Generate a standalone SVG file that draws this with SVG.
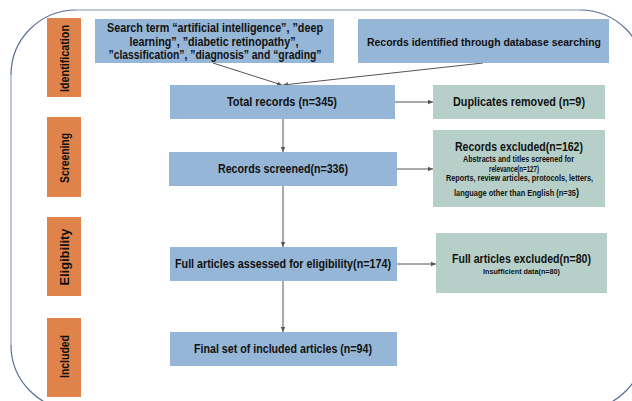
<svg xmlns="http://www.w3.org/2000/svg" width="632" height="401" viewBox="0 0 632 401">
<defs>
<style>
.bg{fill:#ffffff}
.stage{fill:#E0834A}
.blue{fill:#95B6D6}
.green{fill:#B6D0C9}
.t{font-family:"Liberation Sans",Arial,sans-serif;font-weight:bold;fill:#111;text-anchor:middle}
.lab{font-size:12.5px}
.m{font-size:12.5px}
.h{font-size:13.5px}
.s{font-size:8.5px}
.xs{font-size:7.5px}
.edge{fill:none;stroke:#555;stroke-width:1}
.fr1{fill:none;stroke:#AAB6CA;stroke-width:1.5}
.fr2{fill:none;stroke:#5B6F98;stroke-width:1.2}
</style>
<marker id="ah" markerWidth="6" markerHeight="6" refX="5" refY="3" orient="auto" markerUnits="userSpaceOnUse">
<path d="M0,0.8 L5,3 L0,5.2 Z" fill="#555"/>
</marker>
</defs>
<rect class="bg" x="0" y="0" width="632" height="401"/>
<g id="frame">
<path class="fr1" d="M76,10 L580,10 M11,75 L11,345"/>
<path class="fr2" d="M11,75 A65,65 0 0 1 76,10 M580,10 A65,65 0 0 1 645,75 M645,345 A65,65 0 0 1 580,410 M76,410 A65,65 0 0 1 11,345"/>
</g>
<g id="stage-identification">
<rect class="stage" x="47" y="18" width="34" height="79"/>
<text class="t lab" transform="translate(69,58.5) rotate(-90)" textLength="67" lengthAdjust="spacingAndGlyphs">Identification</text>
</g>
<g id="stage-screening">
<rect class="stage" x="47" y="117" width="34" height="80"/>
<text class="t lab" transform="translate(69,158) rotate(-90)" textLength="50" lengthAdjust="spacingAndGlyphs">Screening</text>
</g>
<g id="stage-eligibility">
<rect class="stage" x="47" y="217" width="34" height="79"/>
<text class="t lab" transform="translate(69,257) rotate(-90)" textLength="57" lengthAdjust="spacingAndGlyphs">Eligibility</text>
</g>
<g id="stage-included">
<rect class="stage" x="47" y="318" width="34" height="79"/>
<text class="t lab" transform="translate(69,356.5) rotate(-90)" textLength="43" lengthAdjust="spacingAndGlyphs">Included</text>
</g>
<g id="connectors">
<line class="edge" x1="213" y1="63" x2="282" y2="85" marker-end="url(#ah)"/>
<line class="edge" x1="483" y1="63" x2="283" y2="85" marker-end="url(#ah)"/>
<line class="edge" x1="283" y1="119" x2="283" y2="152" marker-end="url(#ah)"/>
<line class="edge" x1="283" y1="186" x2="283" y2="247" marker-end="url(#ah)"/>
<line class="edge" x1="283" y1="281" x2="283" y2="332" marker-end="url(#ah)"/>
<line class="edge" x1="395" y1="102" x2="433" y2="102" marker-end="url(#ah)"/>
<line class="edge" x1="397" y1="169" x2="433" y2="169" marker-end="url(#ah)"/>
<line class="edge" x1="397" y1="264" x2="436" y2="264" marker-end="url(#ah)"/>
</g>
<g id="search-terms">
<rect class="blue" x="95" y="19" width="239" height="44"/>
<text class="t m" x="215" y="32" textLength="216" lengthAdjust="spacingAndGlyphs">Search term “artificial intelligence”, ”deep</text>
<text class="t m" x="214" y="46" textLength="169" lengthAdjust="spacingAndGlyphs">learning”, ”diabetic retinopathy”,</text>
<text class="t m" x="215" y="59" textLength="213" lengthAdjust="spacingAndGlyphs">”classification”, ”diagnosis” and “grading”</text>
</g>
<g id="records-identified">
<rect class="blue" x="358" y="19" width="251" height="44"/>
<text class="t" style="font-size:11.5px" x="484" y="46" textLength="234" lengthAdjust="spacingAndGlyphs">Records identified through database searching</text>
</g>
<g id="total-records">
<rect class="blue" x="170" y="85" width="225" height="34"/>
<text class="t m" x="282" y="106" textLength="110" lengthAdjust="spacingAndGlyphs">Total records (n=345)</text>
</g>
<g id="duplicates-removed">
<rect class="green" x="433" y="85" width="172" height="34"/>
<text class="t m" x="519" y="106" textLength="132" lengthAdjust="spacingAndGlyphs">Duplicates removed (n=9)</text>
</g>
<g id="records-screened">
<rect class="blue" x="169" y="152" width="228" height="34"/>
<text class="t m" x="283" y="173" textLength="130" lengthAdjust="spacingAndGlyphs">Records screened(n=336)</text>
</g>
<g id="records-excluded">
<rect class="green" x="433" y="130" width="172" height="77"/>
<text class="t h" x="519" y="151" textLength="128" lengthAdjust="spacingAndGlyphs">Records excluded(n=162)</text>
<text class="t s" x="518.5" y="162" textLength="111" lengthAdjust="spacingAndGlyphs">Abstracts and titles screened for</text>
<text class="t s" x="514" y="172" textLength="50" lengthAdjust="spacingAndGlyphs">relevance(n=127)</text>
<text class="t s" x="519.5" y="180.5" textLength="147" lengthAdjust="spacingAndGlyphs">Reports, review articles, protocols, letters,</text>
<text class="t s" x="516.5" y="195.5" textLength="125" lengthAdjust="spacingAndGlyphs">language other than English (n=35<tspan style="font-size:10.5px">)</tspan></text>
</g>
<g id="full-assessed">
<rect class="blue" x="170" y="247" width="227" height="34"/>
<text class="t m" x="283" y="268" textLength="216" lengthAdjust="spacingAndGlyphs">Full articles assessed  for eligibility(n=174)</text>
</g>
<g id="full-excluded">
<rect class="green" x="436" y="233" width="171" height="60"/>
<text class="t h" x="521.5" y="263" textLength="139" lengthAdjust="spacingAndGlyphs">Full articles excluded(n=80)</text>
<text class="t xs" x="521.5" y="274" textLength="77" lengthAdjust="spacingAndGlyphs">Insufficient data(n=80)</text>
</g>
<g id="final-set">
<rect class="blue" x="170" y="332" width="227" height="34"/>
<text class="t m" x="283" y="353" textLength="178" lengthAdjust="spacingAndGlyphs">Final set of included articles (n=94)</text>
</g>
</svg>
